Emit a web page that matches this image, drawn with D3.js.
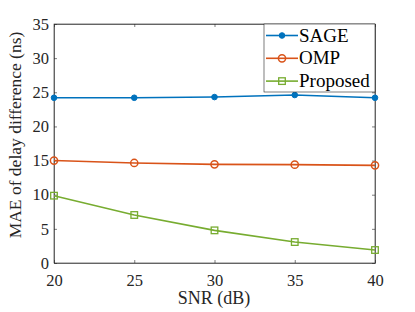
<!DOCTYPE html>
<html>
<head>
<meta charset="utf-8">
<script src="https://cdn.jsdelivr.net/npm/d3@7"></script>
<style>
  body { margin: 0; background: #fff; }
</style>
</head>
<body>
<div class="container"></div>
<script>
const snr = [20, 25, 30, 35, 40];
const sage = [24.2, 24.2, 24.3, 24.6, 24.2];
const omp = [15.0, 14.65, 14.45, 14.4, 14.3];
const proposed = [9.86, 7.03, 4.78, 3.07, 1.9];
const seriesNames = ['SAGE', 'OMP', 'Proposed'];
const xTicks = [20, 25, 30, 35, 40];
const yTicks = [0, 5, 10, 15, 20, 25, 30, 35];

const width = 415, height = 312;
const plotLeft = 54, plotRight = 375, plotTop = 24, plotBottom = 263;
const font = 'Liberation Serif';

const svg = d3.select('.container').append('svg')
    .attr('width', width).attr('height', height);

const x = d3.scaleLinear().domain([20, 40]).range([plotLeft, plotRight]);
const y = d3.scaleLinear().domain([0, 35]).range([plotBottom, plotTop]);

const axisColor = '#262626';

// box
svg.append('rect')
    .attr('x', plotLeft).attr('y', plotTop)
    .attr('width', plotRight - plotLeft).attr('height', plotBottom - plotTop)
    .attr('fill', 'none').attr('stroke', axisColor).attr('stroke-width', 0.6);

// axes (ticks inside)
const xAxis = svg.append('g').attr('transform', `translate(0,${plotBottom})`)
    .call(d3.axisBottom(x).tickValues(xTicks).tickSizeInner(-3).tickSizeOuter(0).tickPadding(11));
const xTop = svg.append('g').attr('transform', `translate(0,${plotTop})`)
    .call(d3.axisTop(x).tickValues(xTicks).tickSizeInner(-3).tickSizeOuter(0).tickFormat(''));
const yAxis = svg.append('g').attr('transform', `translate(${plotLeft},0)`)
    .call(d3.axisLeft(y).tickValues(yTicks).tickSizeInner(-3).tickSizeOuter(0).tickPadding(5));
const yRight = svg.append('g').attr('transform', `translate(${plotRight},0)`)
    .call(d3.axisRight(y).tickValues(yTicks).tickSizeInner(-3).tickSizeOuter(0).tickFormat(''));

[xAxis, xTop, yAxis, yRight].forEach(a => {
    a.attr('font-family', font).attr('font-size', 16.5);
    a.select('.domain').attr('stroke', axisColor).attr('stroke-width', 0.6);
    a.selectAll('.tick line').attr('stroke', axisColor).attr('stroke-width', 0.6);
    a.selectAll('.tick text').attr('fill', axisColor);
});

// axis labels
svg.append('text')
    .attr('x', 214).attr('y', 304)
    .attr('text-anchor', 'middle').attr('font-size', 18)
    .attr('font-family', font).attr('fill', axisColor)
    .text('SNR (dB)');
svg.append('text')
    .attr('transform', 'translate(21,135) rotate(-90)')
    .attr('text-anchor', 'middle').attr('font-size', 17.5)
    .attr('font-family', font).attr('fill', axisColor)
    .text('MAE of delay difference (ns)');

const colors = ['#0072BD', '#D95319', '#77AC30'];
const allSeries = [sage, omp, proposed];
const line = d3.line().x((d, i) => x(snr[i])).y(d => y(d));

function drawMarker(g, k, cx, cy) {
    if (k === 0) {
        g.append('circle').attr('cx', cx).attr('cy', cy).attr('r', 2.8)
            .attr('fill', colors[0]).attr('stroke', colors[0]);
    } else if (k === 1) {
        g.append('circle').attr('cx', cx).attr('cy', cy).attr('r', 3.6)
            .attr('fill', 'none').attr('stroke', colors[1]).attr('stroke-width', 1.5);
    } else {
        g.append('rect').attr('x', cx - 3.3).attr('y', cy - 3.3)
            .attr('width', 6.6).attr('height', 6.6)
            .attr('fill', 'none').attr('stroke', colors[2]).attr('stroke-width', 1.3);
    }
}

allSeries.forEach((vals, k) => {
    const g = svg.append('g');
    g.append('path').datum(vals).attr('d', line)
        .attr('fill', 'none').attr('stroke', colors[k]).attr('stroke-width', 1.6);
    vals.forEach((v, i) => drawMarker(g, k, x(snr[i]), y(v)));
});

// legend
const lg = svg.append('g');
lg.append('rect').attr('x', 264).attr('y', plotTop).attr('width', plotRight - 264).attr('height', 68)
    .attr('fill', '#fff').attr('stroke', axisColor).attr('stroke-width', 0.6);
seriesNames.forEach((name, k) => {
    const ly = 35.5 + k * 22.8;
    lg.append('line').attr('x1', 266).attr('x2', 298).attr('y1', ly).attr('y2', ly)
        .attr('stroke', colors[k]).attr('stroke-width', 1.6);
    drawMarker(lg, k, 282, ly);
    lg.append('text').attr('x', 299).attr('y', ly + 6).attr('font-size', 19)
        .attr('font-family', font).attr('fill', '#000').text(name);
});
</script>
</body>
</html>
